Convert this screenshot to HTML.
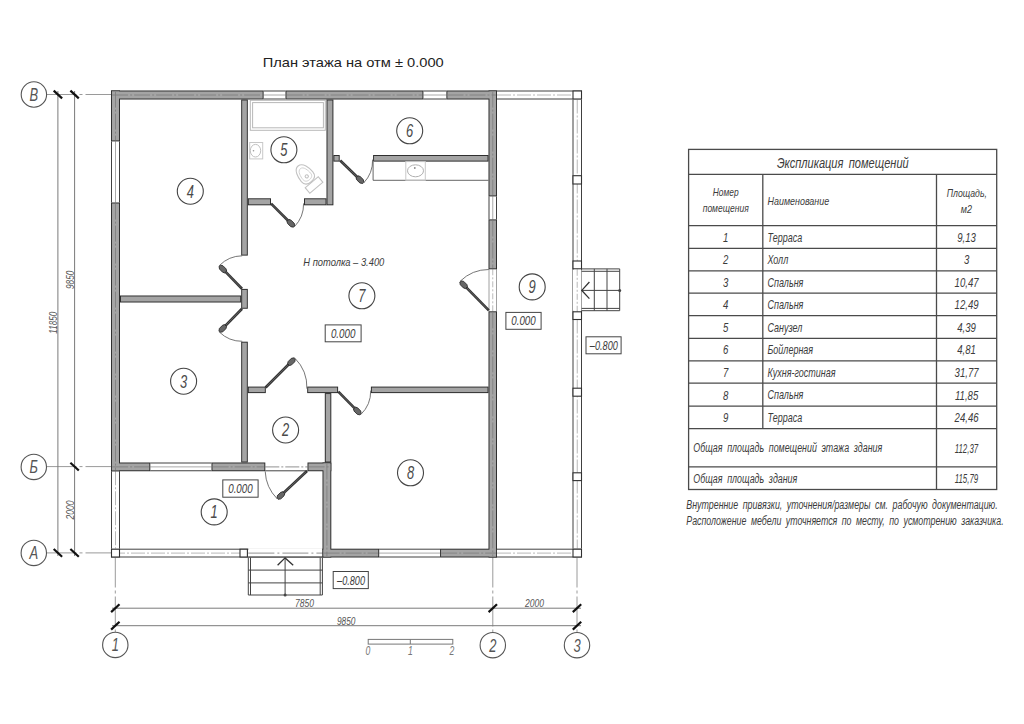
<!DOCTYPE html>
<html><head><meta charset="utf-8"><title>План этажа</title>
<style>
html,body{margin:0;padding:0;background:#fff;width:1024px;height:724px;overflow:hidden}
svg{display:block}
.g{font-family:"Liberation Sans",sans-serif;font-style:italic}
.n{font-family:"Liberation Sans",sans-serif}
</style></head><body>
<svg width="1024" height="724" viewBox="0 0 1024 724">
<rect width="1024" height="724" fill="#fff"/>
<text x="262.7" y="67.1" font-size="13.2" class="n" fill="#222" textLength="181" lengthAdjust="spacingAndGlyphs">План этажа на отм ± 0.000</text>
<line x1="46.50" y1="94.50" x2="111.00" y2="94.50" stroke="#9a9a9a" stroke-width="1" stroke-dasharray="30 3 3 3"/>
<line x1="46.50" y1="466.60" x2="111.00" y2="466.60" stroke="#9a9a9a" stroke-width="1" stroke-dasharray="30 3 3 3"/>
<line x1="46.50" y1="552.90" x2="111.00" y2="552.90" stroke="#9a9a9a" stroke-width="1" stroke-dasharray="30 3 3 3"/>
<line x1="115.30" y1="557.50" x2="115.30" y2="632.00" stroke="#9a9a9a" stroke-width="1" stroke-dasharray="30 3 3 3"/>
<line x1="492.80" y1="557.50" x2="492.80" y2="632.00" stroke="#9a9a9a" stroke-width="1" stroke-dasharray="30 3 3 3"/>
<line x1="577.00" y1="557.50" x2="577.00" y2="632.00" stroke="#9a9a9a" stroke-width="1" stroke-dasharray="30 3 3 3"/>
<line x1="57.90" y1="91.00" x2="57.90" y2="556.00" stroke="#7a7a7a" stroke-width="1" />
<line x1="74.60" y1="91.00" x2="74.60" y2="556.00" stroke="#7a7a7a" stroke-width="1" />
<line x1="112.00" y1="608.20" x2="581.00" y2="608.20" stroke="#7a7a7a" stroke-width="1" />
<line x1="112.00" y1="625.70" x2="581.00" y2="625.70" stroke="#7a7a7a" stroke-width="1" />
<line x1="53.70" y1="90.60" x2="62.10" y2="98.40" stroke="#111" stroke-width="2.2" />
<line x1="70.40" y1="90.60" x2="78.80" y2="98.40" stroke="#111" stroke-width="2.2" />
<line x1="70.40" y1="462.70" x2="78.80" y2="470.50" stroke="#111" stroke-width="2.2" />
<line x1="53.70" y1="549.00" x2="62.10" y2="556.80" stroke="#111" stroke-width="2.2" />
<line x1="70.40" y1="549.00" x2="78.80" y2="556.80" stroke="#111" stroke-width="2.2" />
<line x1="111.10" y1="612.10" x2="119.50" y2="604.30" stroke="#111" stroke-width="2.2" />
<line x1="488.60" y1="612.10" x2="497.00" y2="604.30" stroke="#111" stroke-width="2.2" />
<line x1="572.80" y1="612.10" x2="581.20" y2="604.30" stroke="#111" stroke-width="2.2" />
<line x1="111.10" y1="629.60" x2="119.50" y2="621.80" stroke="#111" stroke-width="2.2" />
<line x1="572.80" y1="629.60" x2="581.20" y2="621.80" stroke="#111" stroke-width="2.2" />
<text x="53.5" y="326.66" font-size="11" text-anchor="middle" class="g" fill="#555" textLength="22" lengthAdjust="spacingAndGlyphs" transform="rotate(-90 53.5 322.7)">11850</text>
<text x="70" y="283.76" font-size="11" text-anchor="middle" class="g" fill="#555" textLength="18.5" lengthAdjust="spacingAndGlyphs" transform="rotate(-90 70 279.8)">9850</text>
<text x="70" y="513.96" font-size="11" text-anchor="middle" class="g" fill="#555" textLength="19" lengthAdjust="spacingAndGlyphs" transform="rotate(-90 70 510)">2000</text>
<text x="304.4" y="607.2" font-size="11" text-anchor="middle" class="g" fill="#555" textLength="19" lengthAdjust="spacingAndGlyphs" >7850</text>
<text x="534.6" y="607.4" font-size="11" text-anchor="middle" class="g" fill="#555" textLength="19" lengthAdjust="spacingAndGlyphs" >2000</text>
<text x="346.2" y="625.2" font-size="11" text-anchor="middle" class="g" fill="#555" textLength="18.5" lengthAdjust="spacingAndGlyphs" >9850</text>
<circle cx="33.9" cy="94.5" r="12.7" fill="#fff" stroke="#555" stroke-width="1.1"/>
<text x="33.9" y="101.00" font-size="18" text-anchor="middle" class="g" fill="#555" transform="translate(33.9 94.5) scale(0.72 1) translate(-33.9 -94.5)">В</text>
<circle cx="33.8" cy="466.9" r="12.7" fill="#fff" stroke="#555" stroke-width="1.1"/>
<text x="33.8" y="473.40" font-size="18" text-anchor="middle" class="g" fill="#555" transform="translate(33.8 466.9) scale(0.72 1) translate(-33.8 -466.9)">Б</text>
<circle cx="33.8" cy="552.9" r="12.7" fill="#fff" stroke="#555" stroke-width="1.1"/>
<text x="33.8" y="559.40" font-size="18" text-anchor="middle" class="g" fill="#555" transform="translate(33.8 552.9) scale(0.72 1) translate(-33.8 -552.9)">А</text>
<circle cx="115.3" cy="644.9" r="12.7" fill="#fff" stroke="#555" stroke-width="1.1"/>
<text x="115.3" y="651.40" font-size="18" text-anchor="middle" class="g" fill="#555" transform="translate(115.3 644.9) scale(0.72 1) translate(-115.3 -644.9)">1</text>
<circle cx="492.8" cy="645.2" r="12.7" fill="#fff" stroke="#555" stroke-width="1.1"/>
<text x="492.8" y="651.70" font-size="18" text-anchor="middle" class="g" fill="#555" transform="translate(492.8 645.2) scale(0.72 1) translate(-492.8 -645.2)">2</text>
<circle cx="577" cy="645.2" r="12.7" fill="#fff" stroke="#555" stroke-width="1.1"/>
<text x="577" y="651.70" font-size="18" text-anchor="middle" class="g" fill="#555" transform="translate(577 645.2) scale(0.72 1) translate(-577 -645.2)">3</text>
<rect x="497.00" y="90.50" width="85.00" height="9.00" fill="#fff"/>
<line x1="497.00" y1="91.00" x2="582.00" y2="91.00" stroke="#404040" stroke-width="1" />
<line x1="497.00" y1="99.00" x2="582.00" y2="99.00" stroke="#404040" stroke-width="1" />
<line x1="497.00" y1="95.00" x2="582.00" y2="95.00" stroke="#b0b0b0" stroke-width="0.9" stroke-dasharray="14 2 2 2"/>
<rect x="572.50" y="99.50" width="9.50" height="449.20" fill="#fff"/>
<line x1="573.00" y1="99.50" x2="573.00" y2="548.70" stroke="#404040" stroke-width="1" />
<line x1="581.50" y1="99.50" x2="581.50" y2="548.70" stroke="#404040" stroke-width="1" />
<line x1="577.25" y1="99.50" x2="577.25" y2="548.70" stroke="#b0b0b0" stroke-width="0.9" stroke-dasharray="14 2 2 2"/>
<rect x="497.00" y="548.70" width="85.00" height="8.80" fill="#fff"/>
<line x1="497.00" y1="549.20" x2="582.00" y2="549.20" stroke="#404040" stroke-width="1" />
<line x1="497.00" y1="557.00" x2="582.00" y2="557.00" stroke="#404040" stroke-width="1" />
<line x1="497.00" y1="553.10" x2="582.00" y2="553.10" stroke="#b0b0b0" stroke-width="0.9" stroke-dasharray="14 2 2 2"/>
<rect x="111.00" y="548.70" width="211.50" height="8.80" fill="#fff"/>
<line x1="111.00" y1="549.20" x2="322.50" y2="549.20" stroke="#404040" stroke-width="1" />
<line x1="111.00" y1="557.00" x2="322.50" y2="557.00" stroke="#404040" stroke-width="1" />
<line x1="111.00" y1="553.10" x2="322.50" y2="553.10" stroke="#b0b0b0" stroke-width="0.9" stroke-dasharray="14 2 2 2"/>
<rect x="111.00" y="471.25" width="9.00" height="77.45" fill="#fff"/>
<line x1="111.50" y1="471.25" x2="111.50" y2="548.70" stroke="#404040" stroke-width="1" />
<line x1="119.50" y1="471.25" x2="119.50" y2="548.70" stroke="#404040" stroke-width="1" />
<line x1="115.50" y1="471.25" x2="115.50" y2="548.70" stroke="#b0b0b0" stroke-width="0.9" stroke-dasharray="14 2 2 2"/>
<rect x="573.00" y="91.00" width="8.50" height="8.00" fill="#fff" stroke="#303030" stroke-width="1.1"/>
<rect x="573.00" y="175.70" width="8.50" height="8.30" fill="#fff" stroke="#303030" stroke-width="1.1"/>
<rect x="573.00" y="261.00" width="8.50" height="7.80" fill="#fff" stroke="#303030" stroke-width="1.1"/>
<rect x="573.00" y="311.80" width="8.50" height="7.70" fill="#fff" stroke="#303030" stroke-width="1.1"/>
<rect x="573.00" y="388.20" width="8.50" height="8.00" fill="#fff" stroke="#303030" stroke-width="1.1"/>
<rect x="573.00" y="472.80" width="8.50" height="7.80" fill="#fff" stroke="#303030" stroke-width="1.1"/>
<rect x="573.00" y="549.20" width="8.50" height="7.80" fill="#fff" stroke="#303030" stroke-width="1.1"/>
<rect x="240.00" y="549.20" width="7.40" height="7.80" fill="#fff" stroke="#303030" stroke-width="1.1"/>
<rect x="248.4" y="548.2" width="73.6" height="8.3" fill="#fff"/>
<line x1="248.40" y1="557.00" x2="322.50" y2="557.00" stroke="#404040" stroke-width="1" />
<line x1="248.40" y1="553.10" x2="322.50" y2="553.10" stroke="#a8a8a8" stroke-width="1.2" stroke-dasharray="26 3 2 3"/>
<rect x="111.50" y="549.20" width="8.00" height="7.80" fill="#fff" stroke="#303030" stroke-width="1.1"/>
<rect x="573" y="269.8" width="8.5" height="41" fill="#fff"/>
<line x1="577.20" y1="269.80" x2="577.20" y2="311.00" stroke="#b0b0b0" stroke-width="0.9" stroke-dasharray="6 2 2 2"/>
<line x1="581.60" y1="268.90" x2="619.70" y2="268.90" stroke="#444" stroke-width="1" />
<line x1="581.60" y1="271.30" x2="619.70" y2="271.30" stroke="#444" stroke-width="1" />
<line x1="581.60" y1="308.40" x2="619.70" y2="308.40" stroke="#444" stroke-width="1" />
<line x1="581.60" y1="310.70" x2="619.70" y2="310.70" stroke="#444" stroke-width="1" />
<line x1="594.30" y1="268.90" x2="594.30" y2="310.70" stroke="#444" stroke-width="1" />
<line x1="607.00" y1="268.90" x2="607.00" y2="310.70" stroke="#444" stroke-width="1" />
<line x1="619.70" y1="268.90" x2="619.70" y2="310.70" stroke="#444" stroke-width="1" />
<line x1="581.60" y1="290.40" x2="619.70" y2="290.40" stroke="#444" stroke-width="1" />
<circle cx="619.7" cy="290.4" r="1.5" fill="#444"/>
<polyline points="589.4,282 581.8,290.4 589.4,298.6" fill="none" stroke="#333" stroke-width="1.3"/>
<line x1="248.30" y1="557.50" x2="248.30" y2="595.00" stroke="#444" stroke-width="1" />
<line x1="250.50" y1="557.50" x2="250.50" y2="595.00" stroke="#444" stroke-width="1" />
<line x1="320.20" y1="557.50" x2="320.20" y2="595.00" stroke="#444" stroke-width="1" />
<line x1="322.40" y1="557.50" x2="322.40" y2="595.00" stroke="#444" stroke-width="1" />
<line x1="248.30" y1="570.10" x2="322.40" y2="570.10" stroke="#444" stroke-width="1" />
<line x1="248.30" y1="582.90" x2="322.40" y2="582.90" stroke="#444" stroke-width="1" />
<line x1="248.30" y1="595.00" x2="322.40" y2="595.00" stroke="#444" stroke-width="1" />
<line x1="285.10" y1="558.00" x2="285.10" y2="595.00" stroke="#444" stroke-width="1" />
<circle cx="285.1" cy="595" r="1.5" fill="#444"/>
<polyline points="277.6,565.3 285.1,557.9 293.2,565.3" fill="none" stroke="#333" stroke-width="1.3"/>
<rect x="263.60" y="90.50" width="21.90" height="9.00" fill="#fff"/>
<line x1="263.60" y1="91.00" x2="285.50" y2="91.00" stroke="#404040" stroke-width="1" />
<line x1="263.60" y1="99.00" x2="285.50" y2="99.00" stroke="#404040" stroke-width="1" />
<line x1="263.60" y1="95.00" x2="285.50" y2="95.00" stroke="#a0a0a0" stroke-width="0.9" />
<rect x="423.40" y="90.50" width="23.00" height="9.00" fill="#fff"/>
<line x1="423.40" y1="91.00" x2="446.40" y2="91.00" stroke="#404040" stroke-width="1" />
<line x1="423.40" y1="99.00" x2="446.40" y2="99.00" stroke="#404040" stroke-width="1" />
<line x1="423.40" y1="95.00" x2="446.40" y2="95.00" stroke="#a0a0a0" stroke-width="0.9" />
<rect x="111.00" y="141.40" width="9.00" height="61.10" fill="#fff"/>
<line x1="111.50" y1="141.40" x2="111.50" y2="202.50" stroke="#404040" stroke-width="1" />
<line x1="119.50" y1="141.40" x2="119.50" y2="202.50" stroke="#404040" stroke-width="1" />
<line x1="115.50" y1="141.40" x2="115.50" y2="202.50" stroke="#a0a0a0" stroke-width="0.9" />
<rect x="488.50" y="196.40" width="8.50" height="23.00" fill="#fff"/>
<line x1="489.00" y1="196.40" x2="489.00" y2="219.40" stroke="#404040" stroke-width="1" />
<line x1="496.50" y1="196.40" x2="496.50" y2="219.40" stroke="#404040" stroke-width="1" />
<line x1="492.75" y1="196.40" x2="492.75" y2="219.40" stroke="#a0a0a0" stroke-width="0.9" />
<rect x="488.5" y="269.3" width="8.5" height="42" fill="#fff"/>
<line x1="489.00" y1="269.30" x2="489.00" y2="311.30" stroke="#888" stroke-width="0.8" />
<line x1="496.50" y1="269.30" x2="496.50" y2="311.30" stroke="#888" stroke-width="0.8" />
<line x1="492.75" y1="269.30" x2="492.75" y2="311.30" stroke="#aaa" stroke-width="0.8" stroke-dasharray="6 2 2 2"/>
<rect x="379.20" y="548.70" width="60.90" height="8.80" fill="#fff"/>
<line x1="379.20" y1="549.20" x2="440.10" y2="549.20" stroke="#404040" stroke-width="1" />
<line x1="379.20" y1="557.00" x2="440.10" y2="557.00" stroke="#404040" stroke-width="1" />
<line x1="379.20" y1="553.10" x2="440.10" y2="553.10" stroke="#a0a0a0" stroke-width="0.9" />
<rect x="150.30" y="462.50" width="61.20" height="8.75" fill="#fff"/>
<line x1="150.30" y1="463.00" x2="211.50" y2="463.00" stroke="#404040" stroke-width="1" />
<line x1="150.30" y1="470.75" x2="211.50" y2="470.75" stroke="#404040" stroke-width="1" />
<line x1="150.30" y1="466.88" x2="211.50" y2="466.88" stroke="#a0a0a0" stroke-width="0.9" />
<rect x="265.3" y="462.5" width="42.2" height="8.75" fill="#fff"/>
<line x1="265.30" y1="470.80" x2="307.50" y2="470.80" stroke="#444" stroke-width="1" />
<line x1="265.30" y1="466.80" x2="307.50" y2="466.80" stroke="#a8a8a8" stroke-width="1.3" stroke-dasharray="14 2 2 2"/>
<rect x="241.20" y="99.50" width="6.60" height="156.10" fill="#2a2a2a"/>
<rect x="241.20" y="288.90" width="6.60" height="19.85" fill="#2a2a2a"/>
<rect x="241.20" y="341.70" width="6.60" height="120.80" fill="#2a2a2a"/>
<rect x="120.00" y="295.50" width="121.20" height="7.00" fill="#2a2a2a"/>
<rect x="326.50" y="99.50" width="6.90" height="105.80" fill="#2a2a2a"/>
<rect x="247.80" y="198.30" width="23.20" height="7.00" fill="#2a2a2a"/>
<rect x="304.00" y="198.30" width="22.50" height="7.00" fill="#2a2a2a"/>
<rect x="333.40" y="155.00" width="6.30" height="6.60" fill="#2a2a2a"/>
<rect x="373.10" y="155.00" width="115.40" height="6.60" fill="#2a2a2a"/>
<rect x="247.80" y="386.60" width="18.00" height="6.50" fill="#2a2a2a"/>
<rect x="307.20" y="386.60" width="30.90" height="6.50" fill="#2a2a2a"/>
<rect x="370.90" y="386.60" width="117.60" height="6.50" fill="#2a2a2a"/>
<rect x="324.80" y="393.10" width="6.50" height="69.40" fill="#2a2a2a"/>
<rect x="242.15" y="100.45" width="4.70" height="154.20" fill="#a4a4a4"/>
<rect x="242.15" y="289.85" width="4.70" height="17.95" fill="#a4a4a4"/>
<rect x="242.15" y="342.65" width="4.70" height="118.90" fill="#a4a4a4"/>
<rect x="120.95" y="296.45" width="119.30" height="5.10" fill="#a4a4a4"/>
<rect x="327.45" y="100.45" width="5.00" height="103.90" fill="#a4a4a4"/>
<rect x="248.75" y="199.25" width="21.30" height="5.10" fill="#a4a4a4"/>
<rect x="304.95" y="199.25" width="20.60" height="5.10" fill="#a4a4a4"/>
<rect x="334.35" y="155.95" width="4.40" height="4.70" fill="#a4a4a4"/>
<rect x="374.05" y="155.95" width="113.50" height="4.70" fill="#a4a4a4"/>
<rect x="248.75" y="387.55" width="16.10" height="4.60" fill="#a4a4a4"/>
<rect x="308.15" y="387.55" width="29.00" height="4.60" fill="#a4a4a4"/>
<rect x="371.85" y="387.55" width="115.70" height="4.60" fill="#a4a4a4"/>
<rect x="325.75" y="394.05" width="4.60" height="67.50" fill="#a4a4a4"/>
<rect x="111.00" y="90.50" width="152.60" height="9.00" fill="#2a2a2a"/>
<rect x="285.50" y="90.50" width="137.90" height="9.00" fill="#2a2a2a"/>
<rect x="446.40" y="90.50" width="50.60" height="9.00" fill="#2a2a2a"/>
<rect x="111.00" y="90.50" width="9.00" height="50.90" fill="#2a2a2a"/>
<rect x="111.00" y="202.50" width="9.00" height="268.75" fill="#2a2a2a"/>
<rect x="488.50" y="90.50" width="8.50" height="105.90" fill="#2a2a2a"/>
<rect x="488.50" y="219.40" width="8.50" height="49.90" fill="#2a2a2a"/>
<rect x="488.50" y="311.30" width="8.50" height="246.20" fill="#2a2a2a"/>
<rect x="322.50" y="548.70" width="56.70" height="8.80" fill="#2a2a2a"/>
<rect x="440.10" y="548.70" width="56.90" height="8.80" fill="#2a2a2a"/>
<rect x="111.00" y="462.50" width="39.30" height="8.75" fill="#2a2a2a"/>
<rect x="211.50" y="462.50" width="53.80" height="8.75" fill="#2a2a2a"/>
<rect x="307.50" y="462.50" width="23.80" height="8.75" fill="#2a2a2a"/>
<rect x="322.50" y="462.50" width="8.80" height="95.00" fill="#2a2a2a"/>
<rect x="111.95" y="91.45" width="150.70" height="7.10" fill="#a4a4a4"/>
<rect x="286.45" y="91.45" width="136.00" height="7.10" fill="#a4a4a4"/>
<rect x="447.35" y="91.45" width="48.70" height="7.10" fill="#a4a4a4"/>
<rect x="111.95" y="91.45" width="7.10" height="49.00" fill="#a4a4a4"/>
<rect x="111.95" y="203.45" width="7.10" height="266.85" fill="#a4a4a4"/>
<rect x="489.45" y="91.45" width="6.60" height="104.00" fill="#a4a4a4"/>
<rect x="489.45" y="220.35" width="6.60" height="48.00" fill="#a4a4a4"/>
<rect x="489.45" y="312.25" width="6.60" height="244.30" fill="#a4a4a4"/>
<rect x="323.45" y="549.65" width="54.80" height="6.90" fill="#a4a4a4"/>
<rect x="441.05" y="549.65" width="55.00" height="6.90" fill="#a4a4a4"/>
<rect x="111.95" y="463.45" width="37.40" height="6.85" fill="#a4a4a4"/>
<rect x="212.45" y="463.45" width="51.90" height="6.85" fill="#a4a4a4"/>
<rect x="308.45" y="463.45" width="21.90" height="6.85" fill="#a4a4a4"/>
<rect x="323.45" y="463.45" width="6.90" height="93.10" fill="#a4a4a4"/>
<line x1="112.10" y1="95.00" x2="262.50" y2="95.00" stroke="#7c7c7c" stroke-width="0.8" stroke-dasharray="16 2 2 2"/>
<line x1="286.60" y1="95.00" x2="422.30" y2="95.00" stroke="#7c7c7c" stroke-width="0.8" stroke-dasharray="16 2 2 2"/>
<line x1="447.50" y1="95.00" x2="495.90" y2="95.00" stroke="#7c7c7c" stroke-width="0.8" stroke-dasharray="16 2 2 2"/>
<line x1="115.50" y1="91.60" x2="115.50" y2="140.30" stroke="#7c7c7c" stroke-width="0.8" stroke-dasharray="16 2 2 2"/>
<line x1="115.50" y1="203.60" x2="115.50" y2="470.15" stroke="#7c7c7c" stroke-width="0.8" stroke-dasharray="16 2 2 2"/>
<line x1="492.75" y1="91.60" x2="492.75" y2="195.30" stroke="#7c7c7c" stroke-width="0.8" stroke-dasharray="16 2 2 2"/>
<line x1="492.75" y1="220.50" x2="492.75" y2="268.20" stroke="#7c7c7c" stroke-width="0.8" stroke-dasharray="16 2 2 2"/>
<line x1="492.75" y1="312.40" x2="492.75" y2="556.40" stroke="#7c7c7c" stroke-width="0.8" stroke-dasharray="16 2 2 2"/>
<line x1="323.60" y1="553.10" x2="378.10" y2="553.10" stroke="#7c7c7c" stroke-width="0.8" stroke-dasharray="16 2 2 2"/>
<line x1="441.20" y1="553.10" x2="495.90" y2="553.10" stroke="#7c7c7c" stroke-width="0.8" stroke-dasharray="16 2 2 2"/>
<line x1="112.10" y1="466.88" x2="149.20" y2="466.88" stroke="#7c7c7c" stroke-width="0.8" stroke-dasharray="16 2 2 2"/>
<line x1="212.60" y1="466.88" x2="264.20" y2="466.88" stroke="#7c7c7c" stroke-width="0.8" stroke-dasharray="16 2 2 2"/>
<line x1="308.60" y1="466.88" x2="330.20" y2="466.88" stroke="#7c7c7c" stroke-width="0.8" stroke-dasharray="16 2 2 2"/>
<line x1="326.90" y1="463.60" x2="326.90" y2="556.40" stroke="#7c7c7c" stroke-width="0.8" stroke-dasharray="16 2 2 2"/>
<line x1="242.00" y1="288.70" x2="221.49" y2="267.65" stroke="#333" stroke-width="2.7" stroke-linecap="butt"/>
<line x1="240.95" y1="287.63" x2="222.19" y2="268.37" stroke="#666" stroke-width="0.9" />
<polygon points="219.04,266.27 220.18,265.16 222.93,265.69 226.00,268.84 226.68,270.97 224.68,272.92 222.57,272.19 219.50,269.04" fill="#666" stroke="#2a2a2a" stroke-width="0.9"/>
<path d="M219.40,265.50 A32.64,32.64 0 0 1 242.20,255.80" fill="none" stroke="#666" stroke-width="0.9"/>
<line x1="242.00" y1="308.70" x2="221.39" y2="329.85" stroke="#333" stroke-width="2.7" stroke-linecap="butt"/>
<line x1="240.95" y1="309.77" x2="222.09" y2="329.13" stroke="#666" stroke-width="0.9" />
<polygon points="220.08,332.34 218.94,331.23 219.40,328.46 222.47,325.31 224.58,324.58 226.58,326.53 225.90,328.66 222.83,331.81" fill="#666" stroke="#2a2a2a" stroke-width="0.9"/>
<path d="M219.30,332.00 A32.57,32.57 0 0 0 242.30,341.30" fill="none" stroke="#666" stroke-width="0.9"/>
<line x1="271.10" y1="203.60" x2="292.18" y2="224.68" stroke="#333" stroke-width="2.7" stroke-linecap="butt"/>
<line x1="272.16" y1="204.66" x2="291.47" y2="223.97" stroke="#666" stroke-width="0.9" />
<polygon points="294.65,226.02 293.52,227.15 290.76,226.66 287.65,223.55 286.95,221.43 288.93,219.45 291.05,220.15 294.16,223.26" fill="#666" stroke="#2a2a2a" stroke-width="0.9"/>
<path d="M294.30,226.80 A32.66,32.66 0 0 0 303.60,203.40" fill="none" stroke="#666" stroke-width="0.9"/>
<line x1="340.20" y1="160.50" x2="361.35" y2="181.01" stroke="#333" stroke-width="2.7" stroke-linecap="butt"/>
<line x1="341.28" y1="161.54" x2="360.63" y2="180.32" stroke="#666" stroke-width="0.9" />
<polygon points="363.84,182.32 362.73,183.47 359.96,183.01 356.80,179.95 356.06,177.84 358.01,175.83 360.15,176.50 363.30,179.57" fill="#666" stroke="#2a2a2a" stroke-width="0.9"/>
<path d="M363.50,183.10 A32.44,32.44 0 0 0 372.60,159.60" fill="none" stroke="#666" stroke-width="0.9"/>
<line x1="488.80" y1="310.40" x2="462.30" y2="283.34" stroke="#333" stroke-width="2.7" stroke-linecap="butt"/>
<line x1="487.75" y1="309.33" x2="463.00" y2="284.06" stroke="#666" stroke-width="0.9" />
<polygon points="459.84,281.97 460.98,280.85 463.73,281.38 466.81,284.52 467.50,286.65 465.50,288.61 463.38,287.88 460.30,284.74" fill="#666" stroke="#2a2a2a" stroke-width="0.9"/>
<path d="M460.20,281.20 A40.89,40.89 0 0 1 488.80,269.50" fill="none" stroke="#666" stroke-width="0.9"/>
<line x1="265.60" y1="387.50" x2="292.78" y2="360.32" stroke="#333" stroke-width="2.7" stroke-linecap="butt"/>
<line x1="266.66" y1="386.44" x2="292.07" y2="361.03" stroke="#666" stroke-width="0.9" />
<polygon points="294.12,357.85 295.25,358.98 294.76,361.74 291.65,364.85 289.53,365.55 287.55,363.57 288.25,361.45 291.36,358.34" fill="#666" stroke="#2a2a2a" stroke-width="0.9"/>
<path d="M294.90,358.20 A41.38,41.38 0 0 1 306.90,388.70" fill="none" stroke="#666" stroke-width="0.9"/>
<line x1="338.30" y1="391.60" x2="358.70" y2="412.36" stroke="#333" stroke-width="2.7" stroke-linecap="butt"/>
<line x1="339.35" y1="392.67" x2="358.00" y2="411.65" stroke="#666" stroke-width="0.9" />
<polygon points="361.16,413.73 360.02,414.85 357.27,414.33 354.18,411.19 353.49,409.06 355.49,407.10 357.61,407.82 360.69,410.96" fill="#666" stroke="#2a2a2a" stroke-width="0.9"/>
<path d="M360.80,414.50 A32.26,32.26 0 0 0 370.70,390.60" fill="none" stroke="#666" stroke-width="0.9"/>
<line x1="307.00" y1="470.90" x2="279.48" y2="496.84" stroke="#333" stroke-width="2.7" stroke-linecap="butt"/>
<line x1="305.91" y1="471.93" x2="280.21" y2="496.16" stroke="#666" stroke-width="0.9" />
<polygon points="278.07,499.28 276.97,498.11 277.55,495.37 280.75,492.35 282.89,491.71 284.81,493.74 284.04,495.84 280.84,498.86" fill="#666" stroke="#2a2a2a" stroke-width="0.9"/>
<path d="M277.30,498.90 A41.31,41.31 0 0 1 265.20,471.40" fill="none" stroke="#666" stroke-width="0.9"/>
<rect x="250.30" y="100.30" width="75.00" height="30.00" fill="none" stroke="#b8b8b8" stroke-width="1"/>
<rect x="252.60" y="102.60" width="70.80" height="25.20" fill="none" stroke="#b8b8b8" stroke-width="1"/>
<rect x="249.70" y="142.50" width="13.00" height="16.40" fill="none" stroke="#c8c8c8" stroke-width="1"/>
<ellipse cx="255.5" cy="150.7" rx="5.2" ry="6.3" fill="none" stroke="#c0c0c0" stroke-width="1"/>
<circle cx="253.5" cy="150.7" r="0.8" fill="#999"/>
<g transform="translate(305.8 175.2) rotate(-40)" fill="none" stroke="#c2c2c2" stroke-width="1.1"><path d="M0,-12 C6,-12 7.5,-3 7.5,2 C7.5,6.5 4.5,8.5 0,8.5 C-4.5,8.5 -7.5,6.5 -7.5,2 C-7.5,-3 -6,-12 0,-12 Z"/><path d="M0,-8.5 C4,-8.5 5,-2 5,1.5 C5,4.5 3,5.8 0,5.8 C-3,5.8 -5,4.5 -5,1.5 C-5,-2 -4,-8.5 0,-8.5 Z" stroke="#d0d0d0" stroke-width="0.9"/><circle cx="0" cy="1.5" r="1.6"/><rect x="-8.5" y="9.2" width="17" height="7.2"/></g>
<line x1="373.10" y1="161.60" x2="373.10" y2="180.30" stroke="#555" stroke-width="0.9" />
<line x1="373.10" y1="180.30" x2="488.50" y2="180.30" stroke="#555" stroke-width="0.9" />
<rect x="405.80" y="161.60" width="19.50" height="18.70" fill="none" stroke="#c8c8c8" stroke-width="1"/>
<ellipse cx="415.5" cy="170.8" rx="8" ry="6" fill="none" stroke="#b0b0b0" stroke-width="1"/>
<circle cx="414.8" cy="168" r="0.9" fill="#888"/>
<circle cx="214.2" cy="511.9" r="13" fill="none" stroke="#444" stroke-width="1.1"/>
<text x="214.2" y="518.40" font-size="18" text-anchor="middle" class="g" fill="#4a4a4a" transform="translate(214.2 511.9) scale(0.72 1) translate(-214.2 -511.9)">1</text>
<circle cx="285.6" cy="430.0" r="13" fill="none" stroke="#444" stroke-width="1.1"/>
<text x="285.6" y="436.50" font-size="18" text-anchor="middle" class="g" fill="#4a4a4a" transform="translate(285.6 430.0) scale(0.72 1) translate(-285.6 -430.0)">2</text>
<circle cx="183.6" cy="381.25" r="13" fill="none" stroke="#444" stroke-width="1.1"/>
<text x="183.6" y="387.75" font-size="18" text-anchor="middle" class="g" fill="#4a4a4a" transform="translate(183.6 381.25) scale(0.72 1) translate(-183.6 -381.25)">3</text>
<circle cx="190.3" cy="191.25" r="13" fill="none" stroke="#444" stroke-width="1.1"/>
<text x="190.3" y="197.75" font-size="18" text-anchor="middle" class="g" fill="#4a4a4a" transform="translate(190.3 191.25) scale(0.72 1) translate(-190.3 -191.25)">4</text>
<circle cx="283.9" cy="149.8" r="13" fill="none" stroke="#444" stroke-width="1.1"/>
<text x="283.9" y="156.30" font-size="18" text-anchor="middle" class="g" fill="#4a4a4a" transform="translate(283.9 149.8) scale(0.72 1) translate(-283.9 -149.8)">5</text>
<circle cx="409.7" cy="130.8" r="13" fill="none" stroke="#444" stroke-width="1.1"/>
<text x="409.7" y="137.30" font-size="18" text-anchor="middle" class="g" fill="#4a4a4a" transform="translate(409.7 130.8) scale(0.72 1) translate(-409.7 -130.8)">6</text>
<circle cx="361.9" cy="295.8" r="13" fill="none" stroke="#444" stroke-width="1.1"/>
<text x="361.9" y="302.30" font-size="18" text-anchor="middle" class="g" fill="#4a4a4a" transform="translate(361.9 295.8) scale(0.72 1) translate(-361.9 -295.8)">7</text>
<circle cx="410.5" cy="472.8" r="13" fill="none" stroke="#444" stroke-width="1.1"/>
<text x="410.5" y="479.30" font-size="18" text-anchor="middle" class="g" fill="#4a4a4a" transform="translate(410.5 472.8) scale(0.72 1) translate(-410.5 -472.8)">8</text>
<circle cx="532.2" cy="286.9" r="13" fill="none" stroke="#444" stroke-width="1.1"/>
<text x="532.2" y="293.40" font-size="18" text-anchor="middle" class="g" fill="#4a4a4a" transform="translate(532.2 286.9) scale(0.72 1) translate(-532.2 -286.9)">9</text>
<rect x="505.90" y="312.40" width="35.20" height="16.90" fill="#fff" stroke="#444" stroke-width="1"/>
<text x="523.5" y="325.2" font-size="12" text-anchor="middle" class="g" fill="#3c3c3c" textLength="24.5" lengthAdjust="spacingAndGlyphs" >0.000</text>
<rect x="586.00" y="336.80" width="35.10" height="17.00" fill="#fff" stroke="#444" stroke-width="1"/>
<text x="603.8499999999999" y="349.7" font-size="12" text-anchor="middle" class="g" fill="#3c3c3c" textLength="28" lengthAdjust="spacingAndGlyphs" >–0.800</text>
<rect x="325.20" y="324.90" width="35.90" height="16.90" fill="#fff" stroke="#444" stroke-width="1"/>
<text x="343.15" y="337.7" font-size="12" text-anchor="middle" class="g" fill="#3c3c3c" textLength="24.5" lengthAdjust="spacingAndGlyphs" >0.000</text>
<rect x="222.80" y="479.90" width="35.30" height="17.30" fill="#fff" stroke="#444" stroke-width="1"/>
<text x="240.45000000000002" y="493.09999999999997" font-size="12" text-anchor="middle" class="g" fill="#3c3c3c" textLength="24.5" lengthAdjust="spacingAndGlyphs" >0.000</text>
<rect x="333.20" y="571.50" width="35.10" height="17.10" fill="#fff" stroke="#444" stroke-width="1"/>
<text x="351.05" y="584.5" font-size="12" text-anchor="middle" class="g" fill="#3c3c3c" textLength="28" lengthAdjust="spacingAndGlyphs" >–0.800</text>
<text x="303.3" y="266.3" font-size="11.5" text-anchor="start" class="g" fill="#3c3c3c" textLength="81" lengthAdjust="spacingAndGlyphs" >Н потолка – 3.400</text>
<rect x="368.20" y="639.40" width="84.60" height="4.70" fill="#fff" stroke="#777" stroke-width="1"/>
<line x1="410.30" y1="639.40" x2="410.30" y2="644.10" stroke="#777" stroke-width="1" />
<text x="367.8" y="655.0" font-size="12" text-anchor="middle" class="g" fill="#777" transform="translate(367.8 650) scale(0.72 1) translate(-367.8 -650)">0</text>
<text x="410.3" y="655.0" font-size="12" text-anchor="middle" class="g" fill="#777" transform="translate(410.3 650) scale(0.72 1) translate(-410.3 -650)">1</text>
<text x="452.0" y="655.0" font-size="12" text-anchor="middle" class="g" fill="#777" transform="translate(452 650) scale(0.72 1) translate(-452 -650)">2</text>
<rect x="688.60" y="149.40" width="308.10" height="340.10" fill="none" stroke="#4a4a4a" stroke-width="1.3"/>
<line x1="688.60" y1="174.40" x2="996.70" y2="174.40" stroke="#4a4a4a" stroke-width="1.3" />
<line x1="688.60" y1="225.70" x2="996.70" y2="225.70" stroke="#4a4a4a" stroke-width="1.3" />
<line x1="688.60" y1="248.40" x2="996.70" y2="248.40" stroke="#4a4a4a" stroke-width="1.3" />
<line x1="688.60" y1="270.80" x2="996.70" y2="270.80" stroke="#4a4a4a" stroke-width="1.3" />
<line x1="688.60" y1="293.10" x2="996.70" y2="293.10" stroke="#4a4a4a" stroke-width="1.3" />
<line x1="688.60" y1="315.70" x2="996.70" y2="315.70" stroke="#4a4a4a" stroke-width="1.3" />
<line x1="688.60" y1="338.40" x2="996.70" y2="338.40" stroke="#4a4a4a" stroke-width="1.3" />
<line x1="688.60" y1="360.80" x2="996.70" y2="360.80" stroke="#4a4a4a" stroke-width="1.3" />
<line x1="688.60" y1="383.10" x2="996.70" y2="383.10" stroke="#4a4a4a" stroke-width="1.3" />
<line x1="688.60" y1="406.20" x2="996.70" y2="406.20" stroke="#4a4a4a" stroke-width="1.3" />
<line x1="688.60" y1="428.60" x2="996.70" y2="428.60" stroke="#4a4a4a" stroke-width="1.3" />
<line x1="688.60" y1="466.90" x2="996.70" y2="466.90" stroke="#4a4a4a" stroke-width="1.3" />
<line x1="762.80" y1="174.40" x2="762.80" y2="428.60" stroke="#4a4a4a" stroke-width="1.3" />
<line x1="936.50" y1="174.40" x2="936.50" y2="489.50" stroke="#4a4a4a" stroke-width="1.3" />
<text x="776.9" y="168.1" font-size="14.5" text-anchor="start" class="g" fill="#3c3c3c" textLength="131.8" lengthAdjust="spacingAndGlyphs" word-spacing="3">Экспликация помещений</text>
<text x="725.7" y="196.3" font-size="11.5" text-anchor="middle" class="g" fill="#3c3c3c" textLength="25.8" lengthAdjust="spacingAndGlyphs" >Номер</text>
<text x="725.7" y="211.9" font-size="11.5" text-anchor="middle" class="g" fill="#3c3c3c" textLength="46" lengthAdjust="spacingAndGlyphs" >помещения</text>
<text x="767.5" y="204.8" font-size="11.5" text-anchor="start" class="g" fill="#3c3c3c" textLength="61.7" lengthAdjust="spacingAndGlyphs" >Наименование</text>
<text x="966.8" y="197.0" font-size="11.5" text-anchor="middle" class="g" fill="#3c3c3c" textLength="40.2" lengthAdjust="spacingAndGlyphs" >Площадь,</text>
<text x="966.4" y="212.7" font-size="11.5" text-anchor="middle" class="g" fill="#3c3c3c" textLength="11.2" lengthAdjust="spacingAndGlyphs" >м2</text>
<text x="725.7" y="241.95" font-size="13" text-anchor="middle" class="g" fill="#3c3c3c" transform="translate(725.7 237.05) scale(0.74 1) translate(-725.7 -237.05)">1</text>
<text x="767.5" y="241.85" font-size="12" class="g" fill="#3c3c3c" transform="translate(767.5 237.05) scale(0.75 1) translate(-767.5 -237.05)">Терраса</text>
<text x="966.6" y="241.95" font-size="13" class="g" text-anchor="middle" fill="#3c3c3c" transform="translate(966.6 237.05) scale(0.74 1) translate(-966.6 -237.05)">9,13</text>
<text x="725.7" y="264.50" font-size="13" text-anchor="middle" class="g" fill="#3c3c3c" transform="translate(725.7 259.6) scale(0.74 1) translate(-725.7 -259.6)">2</text>
<text x="767.5" y="264.40" font-size="12" class="g" fill="#3c3c3c" transform="translate(767.5 259.6) scale(0.75 1) translate(-767.5 -259.6)">Холл</text>
<text x="966.6" y="264.50" font-size="13" class="g" text-anchor="middle" fill="#3c3c3c" transform="translate(966.6 259.6) scale(0.74 1) translate(-966.6 -259.6)">3</text>
<text x="725.7" y="286.85" font-size="13" text-anchor="middle" class="g" fill="#3c3c3c" transform="translate(725.7 281.95000000000005) scale(0.74 1) translate(-725.7 -281.95000000000005)">3</text>
<text x="767.5" y="286.75" font-size="12" class="g" fill="#3c3c3c" transform="translate(767.5 281.95000000000005) scale(0.75 1) translate(-767.5 -281.95000000000005)">Спальня</text>
<text x="966.6" y="286.85" font-size="13" class="g" text-anchor="middle" fill="#3c3c3c" transform="translate(966.6 281.95000000000005) scale(0.74 1) translate(-966.6 -281.95000000000005)">10,47</text>
<text x="725.7" y="309.30" font-size="13" text-anchor="middle" class="g" fill="#3c3c3c" transform="translate(725.7 304.4) scale(0.74 1) translate(-725.7 -304.4)">4</text>
<text x="767.5" y="309.20" font-size="12" class="g" fill="#3c3c3c" transform="translate(767.5 304.4) scale(0.75 1) translate(-767.5 -304.4)">Спальня</text>
<text x="966.6" y="309.30" font-size="13" class="g" text-anchor="middle" fill="#3c3c3c" transform="translate(966.6 304.4) scale(0.74 1) translate(-966.6 -304.4)">12,49</text>
<text x="725.7" y="331.95" font-size="13" text-anchor="middle" class="g" fill="#3c3c3c" transform="translate(725.7 327.04999999999995) scale(0.74 1) translate(-725.7 -327.04999999999995)">5</text>
<text x="767.5" y="331.85" font-size="12" class="g" fill="#3c3c3c" transform="translate(767.5 327.04999999999995) scale(0.75 1) translate(-767.5 -327.04999999999995)">Санузел</text>
<text x="966.6" y="331.95" font-size="13" class="g" text-anchor="middle" fill="#3c3c3c" transform="translate(966.6 327.04999999999995) scale(0.74 1) translate(-966.6 -327.04999999999995)">4,39</text>
<text x="725.7" y="354.50" font-size="13" text-anchor="middle" class="g" fill="#3c3c3c" transform="translate(725.7 349.6) scale(0.74 1) translate(-725.7 -349.6)">6</text>
<text x="767.5" y="354.40" font-size="12" class="g" fill="#3c3c3c" transform="translate(767.5 349.6) scale(0.75 1) translate(-767.5 -349.6)">Бойлерная</text>
<text x="966.6" y="354.50" font-size="13" class="g" text-anchor="middle" fill="#3c3c3c" transform="translate(966.6 349.6) scale(0.74 1) translate(-966.6 -349.6)">4,81</text>
<text x="725.7" y="376.85" font-size="13" text-anchor="middle" class="g" fill="#3c3c3c" transform="translate(725.7 371.95000000000005) scale(0.74 1) translate(-725.7 -371.95000000000005)">7</text>
<text x="767.5" y="376.75" font-size="12" class="g" fill="#3c3c3c" transform="translate(767.5 371.95000000000005) scale(0.75 1) translate(-767.5 -371.95000000000005)">Кухня-гостиная</text>
<text x="966.6" y="376.85" font-size="13" class="g" text-anchor="middle" fill="#3c3c3c" transform="translate(966.6 371.95000000000005) scale(0.74 1) translate(-966.6 -371.95000000000005)">31,77</text>
<text x="725.7" y="399.55" font-size="13" text-anchor="middle" class="g" fill="#3c3c3c" transform="translate(725.7 394.65) scale(0.74 1) translate(-725.7 -394.65)">8</text>
<text x="767.5" y="399.45" font-size="12" class="g" fill="#3c3c3c" transform="translate(767.5 394.65) scale(0.75 1) translate(-767.5 -394.65)">Спальня</text>
<text x="966.6" y="399.55" font-size="13" class="g" text-anchor="middle" fill="#3c3c3c" transform="translate(966.6 394.65) scale(0.74 1) translate(-966.6 -394.65)">11,85</text>
<text x="725.7" y="422.30" font-size="13" text-anchor="middle" class="g" fill="#3c3c3c" transform="translate(725.7 417.4) scale(0.74 1) translate(-725.7 -417.4)">9</text>
<text x="767.5" y="422.20" font-size="12" class="g" fill="#3c3c3c" transform="translate(767.5 417.4) scale(0.75 1) translate(-767.5 -417.4)">Терраса</text>
<text x="966.6" y="422.30" font-size="13" class="g" text-anchor="middle" fill="#3c3c3c" transform="translate(966.6 417.4) scale(0.74 1) translate(-966.6 -417.4)">24,46</text>
<text x="693.3" y="451.6" font-size="12" text-anchor="start" class="g" fill="#3c3c3c" textLength="188.9" lengthAdjust="spacingAndGlyphs" word-spacing="3">Общая площадь помещений этажа здания</text>
<text x="966.4" y="452.5" font-size="13" class="g" text-anchor="middle" fill="#3c3c3c" textLength="23.5" lengthAdjust="spacingAndGlyphs">112,37</text>
<text x="693.3" y="482.8" font-size="12" text-anchor="start" class="g" fill="#3c3c3c" textLength="104" lengthAdjust="spacingAndGlyphs" word-spacing="3">Общая площадь здания</text>
<text x="966.4" y="483.0" font-size="13" class="g" text-anchor="middle" fill="#3c3c3c" textLength="23.5" lengthAdjust="spacingAndGlyphs">115,79</text>
<text x="686.3" y="509.4" font-size="12" text-anchor="start" class="g" fill="#3c3c3c" textLength="311.4" lengthAdjust="spacingAndGlyphs" word-spacing="2.8">Внутренние привязки, уточнения/размеры см. рабочую документацию.</text>
<text x="686.3" y="524.9" font-size="12" text-anchor="start" class="g" fill="#3c3c3c" textLength="317.3" lengthAdjust="spacingAndGlyphs" word-spacing="2.8">Расположение мебели уточняется по месту, по усмотрению заказчика.</text>
</svg>
</body></html>
